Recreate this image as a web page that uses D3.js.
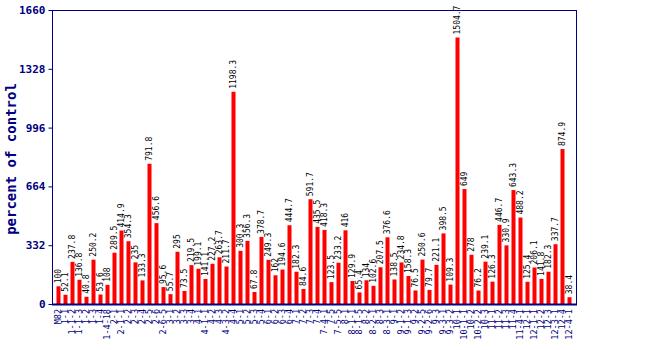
<!DOCTYPE html>
<html>
<head>
<meta charset="utf-8">
<script src="https://cdn.jsdelivr.net/npm/d3@7"></script>
<style>
html, body { margin: 0; padding: 0; background: #ffffff; }
svg { display: block; }
</style>
</head>
<body>
<svg id="chart" width="650" height="350"></svg>
<script>
const categories = ["M82","1-1","1-1-2","1-1-3","1-2","1-3","1-4","1-4-18","2-1","2-1-1",
  "2-2","2-3","2-4","2-5","2-6","2-6-5","3-1","3-2","3-3","3-4",
  "4-1","4-1-1","4-2","4-3","4-3-2","4-4","5-1","5-2","5-3","5-4",
  "6-1","6-2","6-3","6-4","7-1","7-2","7-3","7-4","7-4-1","7-5",
  "7-5-5","8-1","8-1-1","8-1-5","8-2","8-2-1","8-3","8-3-1","9-1","9-1-2",
  "9-1-3","9-2","9-2-5","9-2-6","9-3","9-3-1","9-3-2","10-1","10-1-1","10-2",
  "10-2-2","10-3","11-1","11-2","11-3","11-4","11-4-1","12-1","12-1-1","12-2",
  "12-3","12-3-1","12-4","12-4-1"];
const values = [100,52.1,237.8,136.8,40.8,250.2,53.6,108,289.5,414.9,
  354.3,235,133.3,791.8,456.6,95.6,55.7,295,73.5,219.5,
  199.1,141.1,227.2,263.7,211.7,1198.3,300.3,356.3,67.8,378.7,
  249.3,162,194.6,444.7,182.3,84.6,591.7,435.5,418.3,123.5,
  233.2,416,129.9,65.4,134,102.6,207.5,376.6,138.5,234.8,
  158.3,76.5,250.6,79.7,221.1,398.5,109.3,1504.7,649,278,
  76.2,239.1,126.3,446.7,330.9,643.3,488.2,125.4,206.1,141.8,
  182.3,337.7,874.9,38.4];
const yTicks = [0,332,664,996,1328,1660];
const yTitle = "percent of control";

const navy = "#000080";
const mono = "'DejaVu Sans Mono', 'Liberation Mono', monospace";
const L = 52, R = 577, T = 10, B = 304;

const svg = d3.select("#chart");
const data = categories.map((c, i) => ({c, v: values[i]}));

const x = d3.scaleBand().domain(categories).range([L - 0.5, R - 0.5])
  .paddingInner(3 / 7).paddingOuter(0.714);
const y = d3.scaleLinear().domain([0, 1660]).range([B, T]);

// bars
svg.append("g").selectAll("rect").data(data).join("rect")
  .attr("x", d => x(d.c))
  .attr("y", d => y(d.v))
  .attr("width", x.bandwidth())
  .attr("height", d => B - y(d.v))
  .attr("fill", "#ff0000");

// value labels
svg.append("g").selectAll("text").data(data).join("text")
  .attr("transform", d => `translate(${x(d.c) + x.bandwidth() / 2},${y(d.v) - 3}) rotate(-90)`)
  .attr("dy", "0.35em")
  .attr("font-family", mono)
  .attr("font-size", 8)
  .attr("fill", "#000")
  .text(d => d.v);

// frame
svg.append("rect").attr("x", L + 0.5).attr("y", T + 0.5)
  .attr("width", R - L - 1).attr("height", B - T)
  .attr("fill", "none").attr("stroke", navy).attr("stroke-width", 1);
svg.append("line").attr("x1", L).attr("x2", R).attr("y1", B + 0.5).attr("y2", B + 0.5)
  .attr("stroke", navy).attr("stroke-width", 2);

// y axis
const yAxis = d3.axisLeft(y).tickValues(yTicks).tickSize(4).tickPadding(3).tickFormat(d3.format("d"));
const gy = svg.append("g").attr("transform", `translate(${L + 0.5},0)`).call(yAxis);
gy.select(".domain").remove();
gy.selectAll(".tick line").attr("stroke", navy);
gy.selectAll(".tick text").attr("fill", navy).attr("font-family", mono)
  .attr("font-size", 11).attr("font-weight", "bold");

// x axis labels
const xAxis = d3.axisBottom(x).tickSize(0).tickPadding(0);
const gx = svg.append("g").attr("transform", `translate(0,${B})`).call(xAxis);
gx.select(".domain").remove();
gx.selectAll(".tick text")
  .attr("transform", "translate(0,5) rotate(-90)")
  .attr("text-anchor", "end")
  .attr("x", 0).attr("y", 0).attr("dy", "0.35em")
  .attr("fill", navy).attr("font-family", mono).attr("font-size", 8.5);

// y title
svg.append("text")
  .attr("transform", `translate(11,${(T + B) / 2 + 2}) rotate(-90)`)
  .attr("text-anchor", "middle")
  .attr("dy", "0.35em")
  .attr("font-family", mono).attr("font-size", 14).attr("font-weight", "bold")
  .attr("fill", navy)
  .text(yTitle);
</script>
</body>
</html>
